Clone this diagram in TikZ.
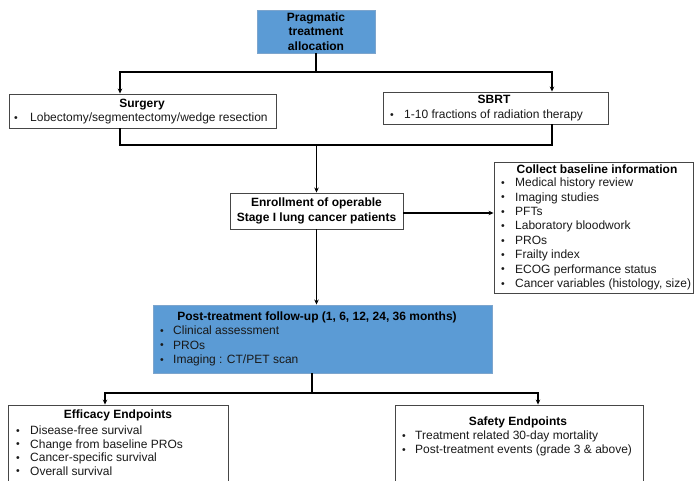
\documentclass[tikz,border=0pt]{standalone}
\usepackage{fontspec}
\setmainfont{Liberation Sans}
\usetikzlibrary{arrows.meta,calc}
\definecolor{boxblue}{RGB}{91,155,213}
\definecolor{blueedge}{RGB}{125,165,205}
\definecolor{edgegray}{RGB}{70,70,70}
\definecolor{txtgray}{RGB}{25,25,25}
\tikzset{
  plainbox/.style={draw=edgegray, line width=0.9pt, fill=white, inner sep=0pt},
  bluebox/.style={draw=blueedge, line width=0.9pt, fill=boxblue, inner sep=0pt},
  txt/.style={inner sep=0pt, text=txtgray, font=\fontsize{12}{14.4}\selectfont},
  ttl/.style={inner sep=0pt, text=black, font=\fontsize{12}{14.4}\selectfont\bfseries},
  bul/.style={inner sep=0pt, text=txtgray, font=\fontsize{10.5}{12}\selectfont},
  link/.style={line width=1.1pt, draw=black},
  arr/.style={link, -{Stealth[length=5pt,width=4.5pt]}},
}
\begin{document}
\begin{tikzpicture}[x=1pt,y=-1pt]
\useasboundingbox (0,0) rectangle (694,481);
\clip (0,0) rectangle (694,481);

% boxes
\node[bluebox, ttl, align=center, minimum width=118pt, minimum height=43pt] (alloc) at (316,31.5) {Pragmatic\\treatment\\allocation};
\node[plainbox, minimum width=267pt, minimum height=34pt] (surgery) at (142.5,111) {};
\node[plainbox, minimum width=225pt, minimum height=32pt] (sbrt) at (495.5,108) {};
\node[plainbox, ttl, align=center, minimum width=173pt, minimum height=36pt] (enroll) at (316.5,211) {Enrollment of operable\\Stage I lung cancer patients};
\node[plainbox, minimum width=199pt, minimum height=131pt] (collect) at (593.5,227.5) {};
\node[bluebox, minimum width=339pt, minimum height=68pt] (post) at (322.5,339) {};
\node[plainbox, minimum width=220pt, minimum height=85pt] (eff) at (118,447.5) {};
\node[plainbox, minimum width=248pt, minimum height=85pt] (saf) at (519,447.5) {};

% surgery text
\node[ttl] (surgT) at (142,105) {Surgery};
\node[bul] (surgB) at (16,119) {•};
\node[txt, anchor=mid west] (surg1) at (30,119) {Lobectomy/segmentectomy/wedge resection};
% sbrt text
\node[ttl] (sbrtT) at (494,99) {SBRT};
\node[bul] (sbrtB) at (392,116) {•};
\node[txt, anchor=mid west] (sbrt1) at (404,116) {1-10 fractions of radiation therapy};

% collect text
\node[ttl] (colT) at (597,169) {Collect baseline information};
\foreach \t [count=\i] in {Medical history review, Imaging studies, PFTs, Laboratory bloodwork, PROs, Frailty index, ECOG performance status, {Cancer variables (histology, size)}}{
  \node[bul] (colB\i) at (503,{184+14.4*(\i-1)}) {•};
  \node[txt, anchor=mid west] (col\i) at (515,{184+14.4*(\i-1)}) {\t};
}

% post text
\node[ttl] (postT) at (317,317) {Post-treatment follow-up (1, 6, 12, 24, 36 months)};
\foreach \t [count=\i] in {Clinical assessment, PROs, Imaging : CT/PET scan}{
  \node[bul] (postB\i) at (162,{332+14.5*(\i-1)}) {•};
  \node[txt, anchor=mid west] (post\i) at (173,{332+14.5*(\i-1)}) {\t};
}

% efficacy text
\node[ttl] (effT) at (118,415) {Efficacy Endpoints};
\foreach \t [count=\i] in {Disease-free survival, Change from baseline PROs, Cancer-specific survival, Overall survival}{
  \node[bul] (effB\i) at (18,{432+13.5*(\i-1)}) {•};
  \node[txt, anchor=mid west] (eff\i) at (30,{432+13.5*(\i-1)}) {\t};
}

% safety text
\node[ttl] (safT) at (518,422) {Safety Endpoints};
\foreach \t [count=\i] in {Treatment related 30-day mortality, Post-treatment events (grade 3 \& above)}{
  \node[bul] (safB\i) at (404,{437+14*(\i-1)}) {•};
  \node[txt, anchor=mid west] (saf\i) at (415,{437+14*(\i-1)}) {\t};
}

% connectors
\coordinate (j1) at (316,72);
\draw[link] (alloc.south) -- (j1);
\draw[arr] (j1) -| ([xshift=-22.5pt]surgery.north);
\draw[arr] (j1) -| ([xshift=56.5pt]sbrt.north);

\coordinate (j2) at (316.5,145);
\draw[link] ([xshift=-22.5pt]surgery.south) |- (j2);
\draw[link] ([xshift=56.5pt]sbrt.south) |- (j2);
\draw[arr] (j2) -- (enroll.north);

\draw[arr] ([yshift=-2pt]enroll.east) -- ([yshift=-2pt]enroll.east -| collect.west);
\draw[arr] (enroll.south) -- (enroll.south |- post.north);

\coordinate (j3) at (312,393);
\draw[link] ([xshift=-10.5pt]post.south) -- (j3);
\draw[arr] (j3) -| ([xshift=-13pt]eff.north);
\draw[arr] (j3) -| ([xshift=19pt]saf.north);
\end{tikzpicture}
\end{document}
